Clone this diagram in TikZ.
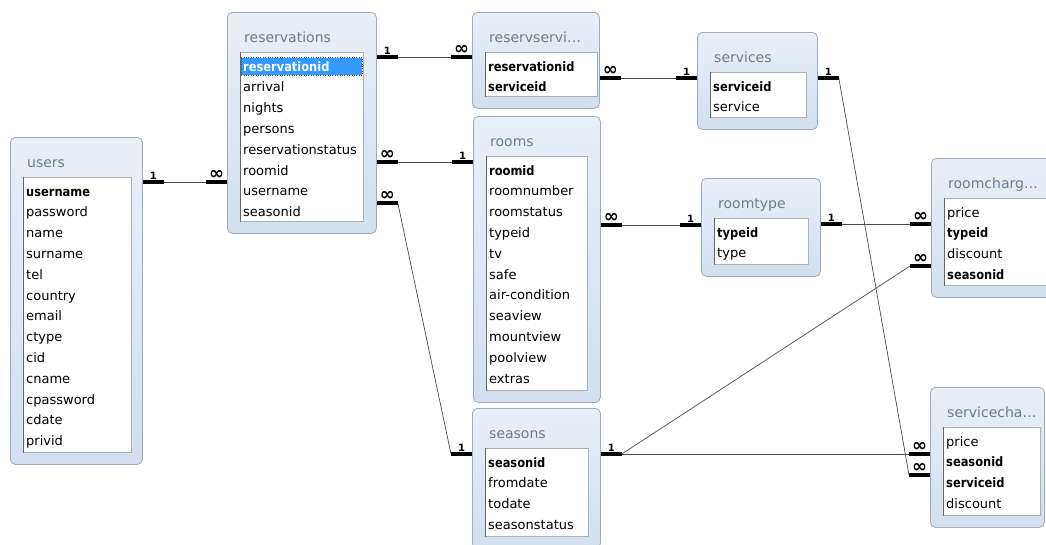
\documentclass[tikz,border=0pt]{standalone}
\usepackage{fontspec}
\setmainfont{DejaVu Sans}
\newfontfamily\keyfont{DejaVu Sans}[FakeStretch=0.88]
\definecolor{tblfill}{HTML}{D3DFEE}
\definecolor{tbltop}{HTML}{E9EFF7}
\definecolor{tblline}{HTML}{9DABBD}
\definecolor{ttlgray}{HTML}{6B7D92}
\definecolor{selblue}{HTML}{3399FF}
\definecolor{lstline}{HTML}{A8B0B8}
\newcommand\nmany{{\fontsize{18}{18}\selectfont ∞}}
\newcommand\dbtable[8]{%
  \node[tblbox, minimum width=#4pt, minimum height=#5pt] (#1) at (#2,#3) {};
  \node[lstbox, minimum width=#6pt, minimum height=#5pt-52pt] (#1-list) at ([xshift=13pt,yshift=-40pt]#1.north west) {};
  \draw[black!60, line width=0.8pt] (#1-list.north west) -- (#1-list.south west);
  \node[ttl] (#1-title) at ([xshift=17pt,yshift=-30pt]#1.north west) {#7};
  \foreach \f/\s [count=\i] in {#8}
    \node[\s] (#1-\i) at ([xshift=16pt,yshift=-59pt-20.8pt*(\i-1)]#1.north west) {\f};
}
\newcommand\relation[6]{%
  \coordinate (#1-#3-s) at (#1.east |- 0,#2);
  \coordinate (#1-#3-e) at (#3.west |- 0,#4);
  \draw[relbar] (#1-#3-s) -- node[card] {#5} ++(21,0) coordinate (#1-#3-sb);
  \draw[relbar] (#1-#3-e) -- node[card] {#6} ++(-21,0) coordinate (#1-#3-eb);
  \draw[relline] (#1-#3-sb) -- (#1-#3-eb);
}
\tikzset{
  tblbox/.style={draw=tblline, line width=0.8pt, rounded corners=5pt, top color=tbltop, bottom color=tblfill, anchor=north west, inner sep=0pt},
  lstbox/.style={draw=lstline, line width=0.8pt, fill=white, anchor=north west, inner sep=0pt},
  ttl/.style={anchor=base west, inner sep=0pt, text=ttlgray, font=\fontsize{14}{14}\selectfont},
  fld/.style={anchor=base west, inner sep=0pt, font=\fontsize{13}{13}\selectfont},
  keyfld/.style={fld, font=\keyfont\bfseries\fontsize{13}{13}\selectfont},
  selfld/.style={keyfld, text=white, fill=selblue, draw=black!70, dotted, text width=117pt, align=left, inner xsep=2pt, inner ysep=4pt, text height=9.5pt, text depth=0pt, xshift=-2pt},
  relbar/.style={line width=3.5pt, black},
  relline/.style={line width=0.7pt, black!70},
  card/.style={above, inner sep=1pt, font=\bfseries\fontsize{10}{10}\selectfont},
}
\begin{document}
\begin{tikzpicture}[x=1pt, y=-1pt]
    \useasboundingbox (0,0) rectangle (1046,544);
    \clip (0,0) rectangle (1046,544);
    \fill[white] (0,0) rectangle (1046,544);
    \dbtable{users}{10}{137}{132}{327}{108}{users}{username/keyfld, password/fld, name/fld, surname/fld, tel/fld, country/fld, email/fld, ctype/fld, cid/fld, cname/fld, cpassword/fld, cdate/fld, privid/fld}
    \dbtable{reservations}{227}{12}{149}{221}{123}{reservations}{reservationid/selfld, arrival/fld, nights/fld, persons/fld, reservationstatus/fld, roomid/fld, username/fld, seasonid/fld}
    \dbtable{reservservi}{472}{12}{127}{96}{112}{reservservi…}{reservationid/keyfld, serviceid/keyfld}
    \dbtable{services}{697}{32}{120}{97}{96}{services}{serviceid/keyfld, service/fld}
    \dbtable{rooms}{473}{116}{127}{286}{101}{rooms}{roomid/keyfld, roomnumber/fld, roomstatus/fld, typeid/fld, tv/fld, safe/fld, air-condition/fld, seaview/fld, mountview/fld, poolview/fld, extras/fld}
    \dbtable{roomtype}{701}{178}{119}{98}{94}{roomtype}{typeid/keyfld, type/fld}
    \dbtable{roomcharge}{931}{158}{125}{139}{102}{roomcharg…}{price/fld, typeid/keyfld, discount/fld, seasonid/keyfld}
    \dbtable{servicecharge}{930}{387}{114}{140}{97}{servicecha…}{price/fld, seasonid/keyfld, serviceid/keyfld, discount/fld}
    \dbtable{seasons}{472}{408}{128}{140}{103}{seasons}{seasonid/keyfld, fromdate/fld, todate/fld, seasonstatus/fld}
    \relation{users}{182}{reservations}{182}{1}{\nmany}
    \relation{reservations}{57}{reservservi}{57}{1}{\nmany}
    \relation{reservations}{162}{rooms}{162}{\nmany}{1}
    \relation{reservations}{203}{seasons}{454}{\nmany}{1}
    \relation{reservservi}{78}{services}{78}{\nmany}{1}
    \relation{rooms}{225}{roomtype}{225}{\nmany}{1}
    \relation{roomtype}{224}{roomcharge}{224}{1}{\nmany}
    \relation{services}{78}{servicecharge}{475}{1}{\nmany}
    \relation{seasons}{454}{servicecharge}{454}{1}{\nmany}
    \draw[relbar] (roomcharge.west |- 0,266) -- node[card] {\nmany} ++(-21,0) coordinate (seasons-roomcharge-eb);
    \draw[relline] (seasons-servicecharge-sb) -- (seasons-roomcharge-eb);
\end{tikzpicture}
\end{document}
